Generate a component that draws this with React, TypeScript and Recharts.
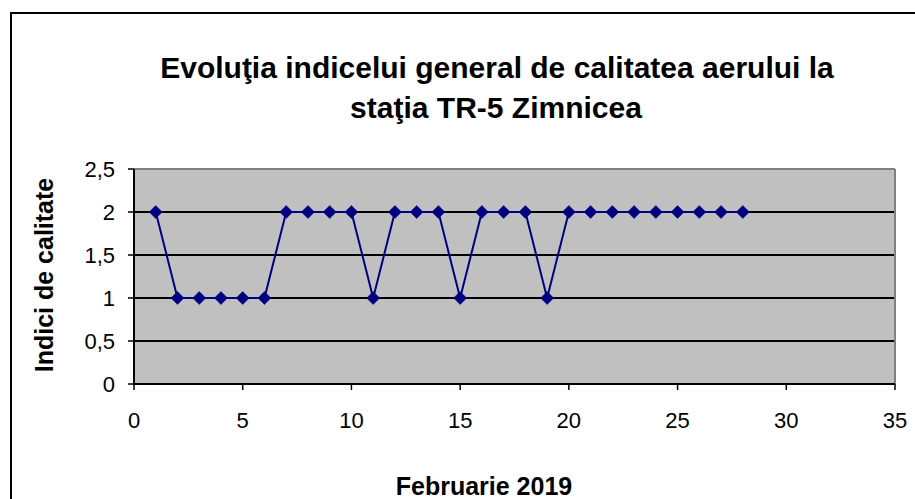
import React from 'react';
import {
  LineChart,
  Line,
  XAxis,
  YAxis,
  CartesianGrid,
  ReferenceLine,
} from 'recharts';

// zilele lunii februarie 2019 si indicele general zilnic
const days = [
  1, 2, 3, 4, 5, 6, 7, 8, 9, 10, 11, 12, 13, 14, 15, 16, 17, 18, 19, 20, 21,
  22, 23, 24, 25, 26, 27, 28,
];
const indexValues = [
  2, 1, 1, 1, 1, 1, 2, 2, 2, 2, 1, 2, 2, 2, 1, 2, 2, 2, 1, 2, 2, 2, 2, 2, 2,
  2, 2, 2,
];
const xTicks = [0, 5, 10, 15, 20, 25, 30, 35];
const yTicks = [0, 0.5, 1, 1.5, 2, 2.5];

const titleLines = [
  'Evoluţia indicelui general de calitatea aerului la',
  'staţia TR-5 Zimnicea',
];
const xTitle = 'Februarie 2019';
const yTitle = 'Indici de calitate';

const FONT = '"Liberation Sans", Arial, Helvetica, sans-serif';
const NAVY = '#000080';

const data = days.map((d, i) => ({ day: d, value: indexValues[i] }));

const Diamond = (props: any) => {
  const { cx, cy, index } = props;
  if (cx == null || cy == null) return <g key={`dot-${index}`} />;
  const r = 6.5;
  return (
    <path
      key={`dot-${index}`}
      d={`M${cx},${cy - r}L${cx + r},${cy}L${cx},${cy + r}L${cx - r},${cy}Z`}
      fill={NAVY}
      stroke={NAVY}
      strokeWidth={0.5}
    />
  );
};

export default function App() {
  const tickStyle = { fill: '#000', fontSize: 22, fontFamily: FONT };

  return (
    <div
      style={{
        position: 'absolute',
        left: 0,
        top: 0,
        width: 915,
        height: 499,
        background: '#fff',
        overflow: 'hidden',
      }}
    >
      {/* chenarul exterior (doar stanga si sus sunt vizibile) */}
      <div
        style={{
          position: 'absolute',
          left: 10,
          top: 12,
          width: 905,
          height: 487,
          borderLeft: '2px solid #000',
          borderTop: '2px solid #000',
        }}
      />
      <LineChart
        width={915}
        height={499}
        data={data}
        margin={{ top: 169, right: 20, bottom: 0, left: 0 }}
      >
        <CartesianGrid
          vertical={false}
          fill="#C0C0C0"
          stroke="#000"
          strokeWidth={2}
          fillOpacity={1}
        />
        <ReferenceLine y={2.5} stroke="#808080" strokeWidth={2} />
        <ReferenceLine x={35} stroke="#808080" strokeWidth={2} />
        <XAxis
          type="number"
          dataKey="day"
          domain={[0, 35]}
          ticks={xTicks}
          interval={0}
          height={115}
          tickSize={6}
          tickMargin={22}
          axisLine={{ stroke: '#000', strokeWidth: 2 }}
          tickLine={{ stroke: '#000', strokeWidth: 1.5 }}
          tick={tickStyle}
        />
        <YAxis
          type="number"
          domain={[0, 2.5]}
          ticks={yTicks}
          interval={0}
          width={134}
          tickSize={6}
          tickMargin={13}
          axisLine={{ stroke: '#000', strokeWidth: 2 }}
          tickLine={{ stroke: '#000', strokeWidth: 1.5 }}
          tick={tickStyle}
          tickFormatter={(v: number) => String(v).replace('.', ',')}
        />
        <Line
          type="linear"
          dataKey="value"
          stroke={NAVY}
          strokeWidth={2}
          dot={Diamond}
          activeDot={false}
          isAnimationActive={false}
        />
      </LineChart>
      <svg
        width={915}
        height={499}
        style={{ position: 'absolute', left: 0, top: 0, pointerEvents: 'none' }}
      >
        <g fontFamily={FONT} fontWeight="bold" fill="#000">
          <text x={497} y={78} fontSize={30} textAnchor="middle">
            {titleLines[0]}
          </text>
          <text x={496} y={118} fontSize={30} textAnchor="middle">
            {titleLines[1]}
          </text>
          <text x={484} y={495} fontSize={25} textAnchor="middle">
            {xTitle}
          </text>
          <text
            x={53}
            y={275}
            fontSize={25}
            textAnchor="middle"
            transform="rotate(-90 53 275)"
          >
            {yTitle}
          </text>
        </g>
      </svg>
    </div>
  );
}
